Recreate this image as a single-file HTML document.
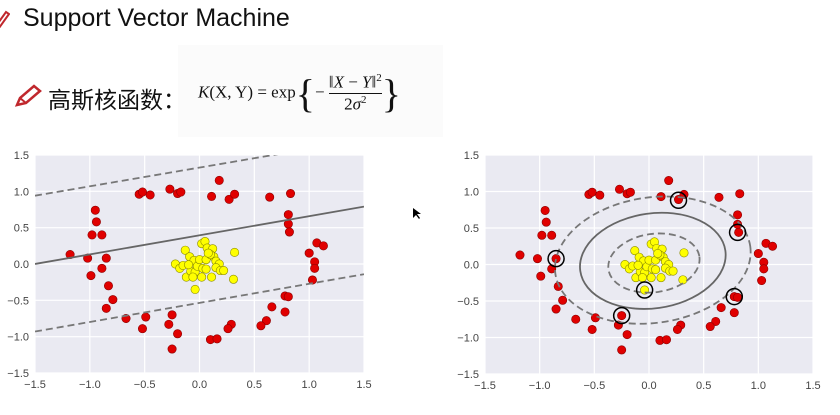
<!DOCTYPE html>
<html><head><meta charset="utf-8">
<style>
body{margin:0;width:840px;height:415px;background:#fff;overflow:hidden;position:relative;font-family:"Liberation Sans","Noto Sans CJK SC",sans-serif}
#title{position:absolute;left:23px;top:4px;font-size:25px;color:#111}
#pen0{position:absolute;left:-6px;top:10px}
#sub{position:absolute;left:48px;top:81px;font-size:23px;color:#111}
#pen1{position:absolute;left:14px;top:84px}
#fbox{position:absolute;left:178px;top:45px;width:265px;height:92px;background:#fbfbfb}
#formula{position:absolute;left:198px;top:70px;font-family:"Liberation Serif",serif;font-size:17px;color:#111;white-space:nowrap}
svg#chart{position:absolute;left:0;top:0}
</style></head><body>
<div id="fbox"></div>
<svg id="pen0" width="16" height="18" viewBox="0 0 16 18"><path d="M2 16 L12 2 L15 4 L5 18 Z" fill="none" stroke="#c0282d" stroke-width="2"/></svg>
<div id="title">Support Vector Machine</div>
<svg id="pen1" width="30" height="24" viewBox="0 0 30 24"><path d="M3 21 L6 14 L20 2 L26 7 L12 19 Z" fill="none" stroke="#c0282d" stroke-width="2.5"/><path d="M6 14 L12 19" stroke="#c0282d" stroke-width="2"/></svg>
<div id="sub">高斯核函数：</div>
<div id="formula"><i>K</i>(X, Y) = exp<span style="font-size:40px;vertical-align:middle">{</span>− <span style="display:inline-block;vertical-align:middle;text-align:center"><span style="display:block;border-bottom:1px solid #111">‖<i>X</i> − <i>Y</i>‖<sup style="font-size:11px">2</sup></span><span style="display:block">2<i>σ</i><sup style="font-size:11px">2</sup></span></span><span style="font-size:40px;vertical-align:middle">}</span></div>
<svg id="chart" width="840" height="415"></svg>
<script>
const redX=[-1.18,-1.02,-0.99,-0.98,-0.89,-0.95,-0.94,-0.89,-0.85,-0.83,-0.79,-0.85,-0.67,-0.49,-0.52,-0.28,-0.25,-0.20,-0.25,-0.55,-0.52,-0.45,-0.27,-0.20,-0.17,0.11,0.18,0.27,0.32,0.64,0.83,0.81,0.81,0.82,1.00,1.07,1.13,1.05,1.05,1.03,0.78,0.81,0.78,0.66,0.61,0.56,0.29,0.26,0.10,0.16];
const redY=[0.13,0.08,-0.16,0.40,0.40,0.74,0.58,-0.06,0.08,-0.30,-0.49,-0.61,-0.75,-0.73,-0.89,-0.83,-0.70,-0.96,-1.17,0.96,0.99,0.95,1.03,0.97,0.99,0.93,1.15,0.89,0.96,0.92,0.97,0.68,0.55,0.44,0.15,0.29,0.25,0.03,-0.06,-0.22,-0.44,-0.45,-0.66,-0.59,-0.78,-0.85,-0.83,-0.89,-1.04,-1.03];
const yelX=[-0.22,-0.18,-0.15,-0.13,-0.09,-0.12,-0.08,-0.05,-0.04,-0.04,-0.02,0.00,0.02,0.05,0.03,0.06,0.07,0.06,0.02,0.11,0.12,0.13,0.15,0.18,0.15,0.19,0.22,0.32,0.31,-0.06,-0.10,0.10,0.08];
const yelY=[0.00,-0.06,-0.02,0.19,0.10,-0.18,-0.10,0.05,-0.11,-0.35,-0.03,0.06,0.28,0.31,-0.06,0.06,0.22,-0.07,-0.18,-0.18,0.21,0.10,0.04,0.00,-0.05,-0.09,-0.09,0.16,-0.21,-0.18,-0.01,0.13,0.15];
const ticks=[-1.5,-1.0,-0.5,0.0,0.5,1.0,1.5];
const linearLines=[[0.263,0.395,'solid'],[0.258,1.327,'dash'],[0.263,-0.535,'dash']]; // slope, intercept
const ellipses=[[0.035,0.05,0.67,0.65,'solid'],[0.045,0.02,0.42,0.40,'dash'],[0.035,0.06,0.90,0.86,'dash']]; // cx,cy,rx,ry
const svX=[-0.85,0.27,0.81,0.78,-0.25,-0.04];
const svY=[0.08,0.88,0.44,-0.44,-0.70,-0.35];
const NS='http://www.w3.org/2000/svg';
const svg=document.getElementById('chart');
function mk(tag,attrs,parent){const e=document.createElementNS(NS,tag);for(const k in attrs)e.setAttribute(k,attrs[k]);(parent||svg).appendChild(e);return e;}
function panel(x0,x1,y0,y1,name){
  const sx=v=>x0+(v+1.5)/3*(x1-x0), sy=v=>y0+(1.5-v)/3*(y1-y0);
  const g=mk('g',{});
  
  
  const bg=mk('rect',{x:x0,y:y0,width:x1-x0,height:y1-y0,fill:'#eaeaf2'},g);
  
  
  ticks.forEach(t=>{
    mk('line',{x1:sx(t),x2:sx(t),y1:y0,y2:y1,stroke:'#fff','stroke-width':1.2},g);
    mk('line',{x1:x0,x2:x1,y1:sy(t),y2:sy(t),stroke:'#fff','stroke-width':1.2},g);
    const lx=mk('text',{x:sx(t),y:y1+15,'text-anchor':'middle','font-size':11,fill:'#444'},g);
    lx.textContent=t.toFixed(1).replace('-','−');
    
    
    const ly=mk('text',{x:x0-6,y:sy(t)+4,'text-anchor':'end','font-size':11,fill:'#444'},g);
    ly.textContent=t.toFixed(1).replace('-','−');
    
    
  });
  const clip=mk('clipPath',{id:'c'+name},g);mk('rect',{x:x0,y:y0,width:x1-x0,height:y1-y0},clip);
  const pg=mk('g',{'clip-path':'url(#c'+name+')'},g);
  return {sx,sy,g:pg};
}
function drawPoints(p){
  redX.forEach((x,i)=>{const c=mk('circle',{cx:p.sx(x),cy:p.sy(redY[i]),r:4.2,fill:'#e00000',stroke:'#8a0000','stroke-width':0.6},p.g);
    
    });
  yelX.forEach((x,i)=>{const c=mk('circle',{cx:p.sx(x),cy:p.sy(yelY[i]),r:4.2,fill:'#ffff00',stroke:'#8a8a00','stroke-width':0.6},p.g);
    
    });
}
const L=panel(35,364,155,373,'linear-svm-plot');
drawPoints(L);
linearLines.forEach(([m,b,s])=>{const l=mk('line',{x1:L.sx(-1.5),y1:L.sy(m*-1.5+b),x2:L.sx(1.5),y2:L.sy(m*1.5+b),stroke:s=='solid'?'#666':'#777','stroke-width':1.8,'stroke-dasharray':s=='dash'?'7,4':'none'},L.g);
  
  });
const R=panel(485,813,155,374,'rbf-svm-plot');
drawPoints(R);
const kx=(R.sx(1)-R.sx(0)), ky=(R.sy(0)-R.sy(1));
ellipses.forEach(([cx,cy,rx,ry,s])=>{const e=mk('ellipse',{cx:R.sx(cx),cy:R.sy(cy),rx:rx*kx,ry:ry*ky,fill:'none',stroke:s=='solid'?'#666':'#777','stroke-width':1.8,'stroke-dasharray':s=='dash'?'7,4':'none',transform:'rotate(-8 '+R.sx(cx)+' '+R.sy(cy)+')'},R.g);
  
  });
svX.forEach((x,i)=>{const c=mk('circle',{cx:R.sx(x),cy:R.sy(svY[i]),r:8,fill:'none',stroke:'#000','stroke-width':1.5},R.g);
  
  });
const cur=mk('path',{d:'M413 208 L413 218 L416 215 L419 219 L420 218 L417 214 L421 214 Z',fill:'#000'});


</script>
</body></html>
